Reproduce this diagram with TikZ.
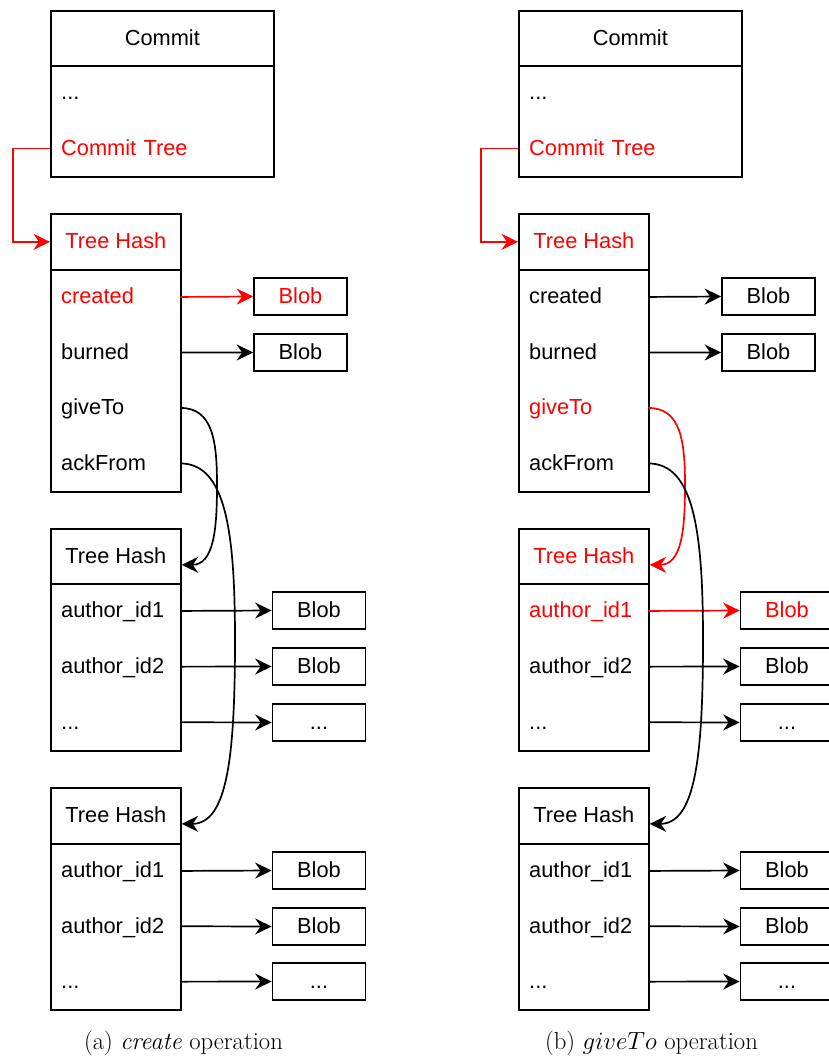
\documentclass[tikz,border=0pt]{standalone}
\usepackage{fontspec}
\newfontfamily\dio{Liberation Sans}
\usetikzlibrary{arrows.meta}
\definecolor{hired}{RGB}{255,0,0}
\begin{document}
\begin{tikzpicture}[x=1pt,y=-1pt,
  every node/.style={font=\dio\fontsize{21.8}{26}\selectfont, inner sep=0pt},
  dtext/.style={text height=18pt, text depth=4.5pt},
  frame/.style={draw, line width=1.7pt, anchor=north west, dtext},
  row/.style={anchor=north west, text width=108pt, inner xsep=11pt, minimum height=55.5pt, align=left, dtext},
  crow/.style={anchor=north west, text width=201pt, inner xsep=11pt, minimum height=55.5pt, align=left, dtext},
  blob/.style={draw, line width=1.7pt, minimum width=93pt, minimum height=37pt, dtext},
  link/.style={line width=1.7pt, -{Stealth[length=16.5pt,width=16pt,inset=5.5pt]}},
  captext/.style={font=\fontsize{24.7}{29}\selectfont},
  hi/.style={text=hired}]
\useasboundingbox (0,0) rectangle (829,1059);

% ================= panel (a) =================
\node[frame, minimum width=223pt, minimum height=55pt] (a-commit) at (50,10) {Commit};
\node[frame, minimum width=223pt, minimum height=111pt] (a-cbody) at (50,65) {};
\node[crow] (a-c1) at (50,65) {...};
\node[crow, hi] (a-c2) at (50,120.5) {Commit Tree};

\node[frame, minimum width=130pt, minimum height=56pt, hi] (a-th1) at (50,213) {Tree Hash};
\node[frame, minimum width=130pt, minimum height=222pt] (a-tb1) at (50,269) {};
\node[row, hi] (a-created) at (50,269) {created};
\node[row] (a-burned) at (50,324.5) {burned};
\node[row] (a-give) at (50,380) {giveTo};
\node[row] (a-ack) at (50,435.5) {ackFrom};
\node[blob, hi] (a-bc) at (300.5,296.5) {Blob};
\node[blob] (a-bb) at (300.5,352.5) {Blob};

\node[frame, minimum width=130pt, minimum height=55pt] (a-th2) at (50,528) {Tree Hash};
\node[frame, minimum width=130pt, minimum height=167pt] (a-tb2) at (50,583) {};
\node[row] (a-g1) at (50,583) {author\_id1};
\node[row] (a-g2) at (50,638.7) {author\_id2};
\node[row] (a-g3) at (50,694.3) {...};
\node[blob] (a-gb1) at (319,610.5) {Blob};
\node[blob] (a-gb2) at (319,666.5) {Blob};
\node[blob] (a-gb3) at (319,722.5) {...};

\node[frame, minimum width=130pt, minimum height=56pt] (a-th3) at (50,787) {Tree Hash};
\node[frame, minimum width=130pt, minimum height=166pt] (a-tb3) at (50,843) {};
\node[row] (a-k1) at (50,843) {author\_id1};
\node[row] (a-k2) at (50,898.3) {author\_id2};
\node[row] (a-k3) at (50,953.7) {...};
\node[blob] (a-kb1) at (319,870.5) {Blob};
\node[blob] (a-kb2) at (319,926.5) {Blob};
\node[blob] (a-kb3) at (319,981.5) {...};

\draw[link, hired] (a-c2.west) -- ++(-37,0) |- (a-th1.west);
\draw[link, hired] (a-created.east) -- (a-bc.west);
\draw[link] (a-burned.east) -- (a-bb.west);
\draw[link] (a-g1.east) -- (a-gb1.west);
\draw[link] (a-g2.east) -- (a-gb2.west);
\draw[link] (a-g3.east) -- (a-gb3.west);
\draw[link] (a-k1.east) -- (a-kb1.west);
\draw[link] (a-k2.east) -- (a-kb2.west);
\draw[link] (a-k3.east) -- (a-kb3.west);
\coordinate (a-gm) at (217,485);
\coordinate (a-am) at (235,640);
\draw[link] (a-give.east) .. controls +(32,0) and +(0,-45) .. (a-gm)
  .. controls +(0,45) and +(32,0) .. ([yshift=-8.5pt]a-th2.east);
\draw[link] (a-ack.east) .. controls +(45,0) and +(0,-110) .. (a-am)
  .. controls +(0,120) and +(45,0) .. ([yshift=-8pt]a-th3.east);

\node[captext] (a-cap) at (183.5,1043) {(a) \textit{create} operation};

% ================= panel (b) =================
\node[frame, minimum width=223pt, minimum height=55pt] (b-commit) at (518,10) {Commit};
\node[frame, minimum width=223pt, minimum height=111pt] (b-cbody) at (518,65) {};
\node[crow] (b-c1) at (518,65) {...};
\node[crow, hi] (b-c2) at (518,120.5) {Commit Tree};

\node[frame, minimum width=130pt, minimum height=56pt, hi] (b-th1) at (518,213) {Tree Hash};
\node[frame, minimum width=130pt, minimum height=222pt] (b-tb1) at (518,269) {};
\node[row] (b-created) at (518,269) {created};
\node[row] (b-burned) at (518,324.5) {burned};
\node[row, hi] (b-give) at (518,380) {giveTo};
\node[row] (b-ack) at (518,435.5) {ackFrom};
\node[blob] (b-bc) at (768.5,296.5) {Blob};
\node[blob] (b-bb) at (768.5,352.5) {Blob};

\node[frame, minimum width=130pt, minimum height=55pt, hi] (b-th2) at (518,528) {Tree Hash};
\node[frame, minimum width=130pt, minimum height=167pt] (b-tb2) at (518,583) {};
\node[row, hi] (b-g1) at (518,583) {author\_id1};
\node[row] (b-g2) at (518,638.7) {author\_id2};
\node[row] (b-g3) at (518,694.3) {...};
\node[blob, hi] (b-gb1) at (787,610.5) {Blob};
\node[blob] (b-gb2) at (787,666.5) {Blob};
\node[blob] (b-gb3) at (787,722.5) {...};

\node[frame, minimum width=130pt, minimum height=56pt] (b-th3) at (518,787) {Tree Hash};
\node[frame, minimum width=130pt, minimum height=166pt] (b-tb3) at (518,843) {};
\node[row] (b-k1) at (518,843) {author\_id1};
\node[row] (b-k2) at (518,898.3) {author\_id2};
\node[row] (b-k3) at (518,953.7) {...};
\node[blob] (b-kb1) at (787,870.5) {Blob};
\node[blob] (b-kb2) at (787,926.5) {Blob};
\node[blob] (b-kb3) at (787,981.5) {...};

\draw[link, hired] (b-c2.west) -- ++(-37,0) |- (b-th1.west);
\draw[link] (b-created.east) -- (b-bc.west);
\draw[link] (b-burned.east) -- (b-bb.west);
\draw[link, hired] (b-g1.east) -- (b-gb1.west);
\draw[link] (b-g2.east) -- (b-gb2.west);
\draw[link] (b-g3.east) -- (b-gb3.west);
\draw[link] (b-k1.east) -- (b-kb1.west);
\draw[link] (b-k2.east) -- (b-kb2.west);
\draw[link] (b-k3.east) -- (b-kb3.west);
\coordinate (b-gm) at (685,485);
\coordinate (b-am) at (703,640);
\draw[link, hired] (b-give.east) .. controls +(32,0) and +(0,-45) .. (b-gm)
  .. controls +(0,45) and +(32,0) .. ([yshift=-8.5pt]b-th2.east);
\draw[link] (b-ack.east) .. controls +(45,0) and +(0,-110) .. (b-am)
  .. controls +(0,120) and +(45,0) .. ([yshift=-8pt]b-th3.east);

\node[captext] (b-cap) at (651.5,1043) {(b) $giveTo$ operation};
\end{tikzpicture}
\end{document}
